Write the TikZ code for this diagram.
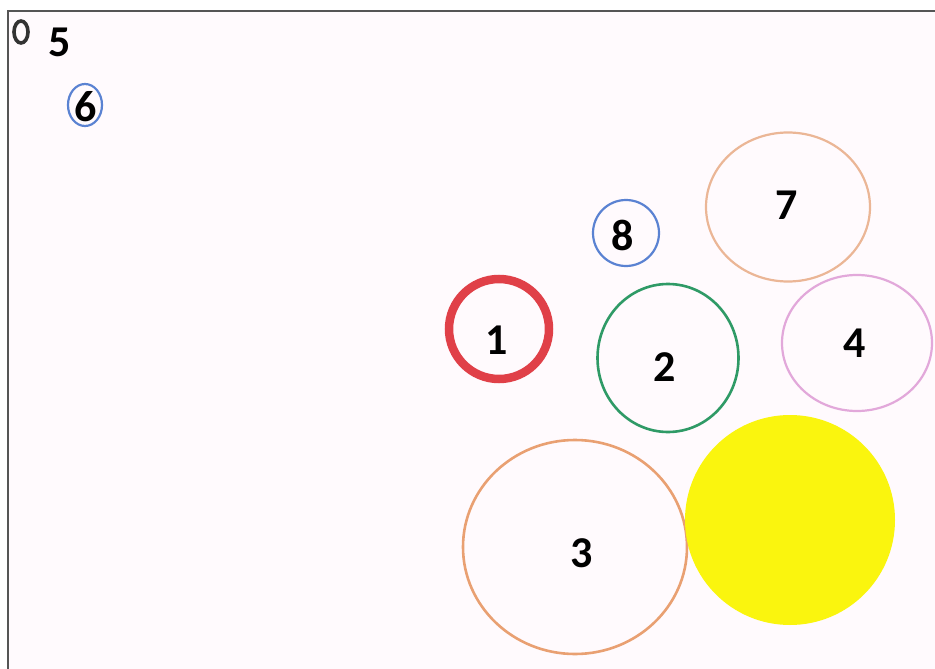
\documentclass[tikz,border=0pt]{standalone}
\usepackage{fontspec}
\setmainfont{Carlito}
\usetikzlibrary{shapes.geometric}
\definecolor{bgpink}{HTML}{FFFAFD}
\definecolor{framegray}{HTML}{555555}
\definecolor{penred}{HTML}{E04048}
\definecolor{pengreen}{HTML}{2F9A66}
\definecolor{penblue}{HTML}{5A82D2}
\definecolor{penpeach}{HTML}{EBB696}
\definecolor{penpink}{HTML}{E2A8DA}
\definecolor{penorange}{HTML}{E9A072}
\definecolor{sunyellow}{HTML}{FAF50E}
\definecolor{pendark}{HTML}{333333}
\tikzset{
  blob/.style={ellipse, draw, inner sep=0pt, line width=2.2pt},
  num/.style={font=\fontsize{44}{44}\selectfont\bfseries, text=black, inner sep=0pt}
}
\begin{document}
\begin{tikzpicture}[x=1pt,y=-1pt]
\useasboundingbox (0,0) rectangle (935,669);
\fill[white] (0,0) rectangle (935,669);
\fill[bgpink] (8,11) rectangle (935,669);
\draw[framegray, line width=2pt] (8,669) -- (8,11) -- (935,11);
% circles
\node[blob, pendark, line width=3.6pt, minimum width=14pt, minimum height=22pt] (c0) at (21,32) {};
\node[blob, penblue, minimum width=34pt, minimum height=42pt] (c6) at (85,105) {};
\node[blob, penblue, minimum width=66pt, minimum height=66pt] (c8) at (626,233) {};
\node[blob, penpeach, minimum width=164pt, minimum height=149pt] (c7) at (788,207) {};
\node[blob, penred, line width=8.5pt, minimum width=100pt, minimum height=100pt] (c1) at (499,329) {};
\node[blob, pengreen, line width=2.6pt, minimum width=141pt, minimum height=148pt] (c2) at (668,358) {};
\node[blob, penpink, minimum width=150pt, minimum height=136pt] (c4) at (857,343) {};
\node[blob, penorange, line width=2.6pt, minimum width=224pt, minimum height=214pt] (c3) at (575,547) {};
\node[circle, fill=sunyellow, inner sep=0pt, minimum size=210pt] (cy) at (790,520) {};
% numbers
\node[num] (t5) at (60,42) {5};
\node[num] (t6) at (86,107) {6};
\node[num] (t8) at (623,235) {8};
\node[num] (t7) at (787,205) {7};
\node[num] (t1) at (497,340) {1};
\node[num] (t2) at (665,367) {2};
\node[num] (t4) at (855,343) {4};
\node[num] (t3) at (582,553) {3};
\end{tikzpicture}
\end{document}
